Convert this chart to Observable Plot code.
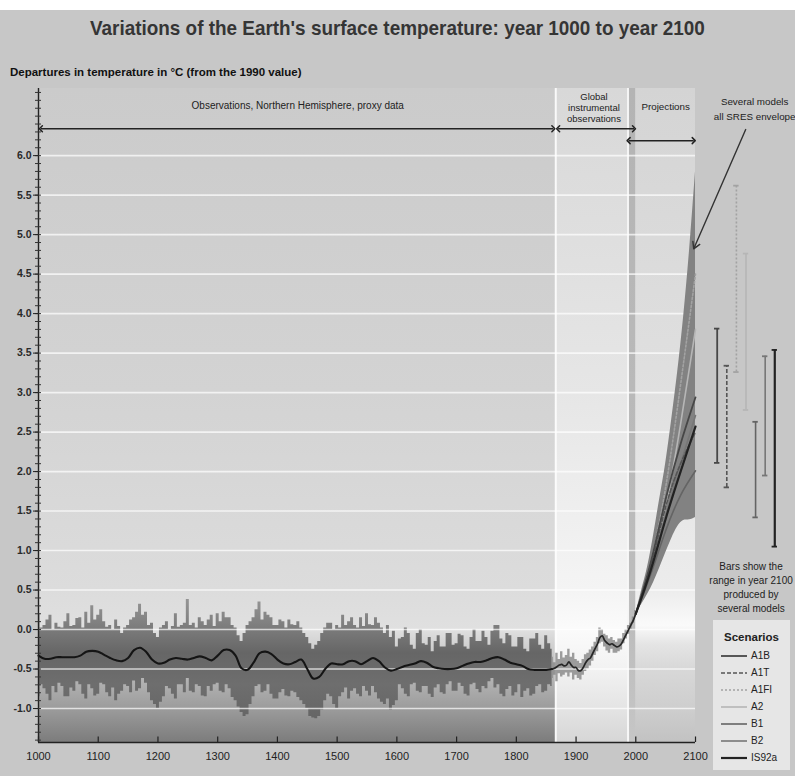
<!DOCTYPE html>
<html><head><meta charset="utf-8">
<script src="https://cdn.jsdelivr.net/npm/d3@7"></script>
<script src="https://cdn.jsdelivr.net/npm/@observablehq/plot@0.6"></script>
<style>
html,body{margin:0;padding:0;}
body{width:795px;height:776px;position:relative;background:#c7c7c7;overflow:hidden;font-family:"Liberation Sans",Arial,sans-serif;}
#topstrip{position:absolute;left:0;top:0;width:795px;height:10px;background:#fff;}
#title{position:absolute;left:0;top:16px;width:795px;text-align:center;font-weight:bold;font-size:21px;color:#353535;white-space:nowrap;transform:scaleX(0.9);transform-origin:397px 0;}
#ylabel{position:absolute;left:10px;top:66px;font-weight:bold;font-size:11.5px;color:#111;white-space:nowrap;}
#chart{position:absolute;left:0;top:80px;}
#legend{position:absolute;left:713px;top:620px;width:77px;height:150px;background:#e6e6e6;font-size:10px;color:#222;}
#legend .lt{font-weight:bold;font-size:11.5px;text-align:center;margin-top:11px;margin-bottom:4px;}
#legend .row{height:17px;display:flex;align-items:center;}
#legend svg{margin-left:8px;margin-right:4px;}
</style>
</head><body>
<div id="topstrip"></div>
<div id="title">Variations of the Earth's surface temperature: year 1000 to year 2100</div>
<div id="ylabel">Departures in temperature in °C (from the 1990 value)</div>
<div id="chart"></div>
<div id="legend"></div>
<script>
// ---------- DATA ----------
const bandYears = d3.range(1000, 1861, 5);
const proxyHigh = [
 0.20, 0.02, 0.05, 0.12, 0.18, 0.00, 0.08, 0.03, 0.02, 0.10,
 0.20, 0.04, 0.05, 0.14, 0.15, 0.02, 0.22, 0.08, 0.30, 0.12,
 0.18, 0.25, 0.10, 0.03, 0.05, 0.00, 0.12, 0.04,-0.05, 0.02,
 0.05, 0.12, 0.15, 0.22, 0.32, 0.18, 0.22, 0.05, 0.08,-0.05,
-0.10, 0.02, 0.05, 0.10, 0.00, 0.04, 0.20, 0.03, 0.05, 0.08,
 0.38, 0.05, 0.08, 0.02, 0.15, 0.10, 0.05, 0.12, 0.18, 0.04,
 0.20, 0.10, 0.22, 0.15, 0.15, 0.05, 0.02,-0.08,-0.15,-0.05,
 0.05, 0.10, 0.15, 0.25, 0.35, 0.12, 0.22, 0.18, 0.15, 0.05,
 0.05, 0.12, 0.10, 0.02, 0.12, 0.06, 0.05, 0.10, 0.02,-0.05,
-0.10,-0.18,-0.25,-0.20,-0.15,-0.05, 0.02, 0.08, 0.08, 0.00,
 0.05, 0.02, 0.18, 0.05, 0.10, 0.15, 0.05, 0.02, 0.15, 0.04,
 0.20, 0.06, 0.05, 0.15, 0.08, 0.02,-0.05, 0.05,-0.10,-0.02,
-0.22,-0.12,-0.10, 0.02,-0.05,-0.20,-0.25,-0.05, 0.00,-0.18,
-0.20,-0.10,-0.28,-0.15,-0.08,-0.22,-0.22,-0.05,-0.05,-0.20,
-0.18,-0.06,-0.08,-0.22,-0.25,-0.10, 0.00,-0.15,-0.15,-0.02,
-0.10,-0.20,-0.02, 0.05, 0.05,-0.12,-0.18,-0.05,-0.08,-0.22,
-0.22,-0.10,-0.10,-0.25,-0.28,-0.12,-0.12,-0.05,-0.20,-0.25,
-0.08,-0.18,-0.25];
const proxyLow = [
-0.85,-0.70,-0.75,-0.82,-0.90,-0.72,-0.80,-0.68,-0.72,-0.85,
-0.85,-0.74,-0.78,-0.66,-0.70,-0.82,-0.88,-0.70,-0.75,-0.84,
-0.82,-0.68,-0.70,-0.80,-0.85,-0.74,-0.90,-0.82,-0.78,-0.70,
-0.72,-0.80,-0.65,-0.78,-0.75,-0.62,-0.68,-0.80,-0.90,-0.95,
-1.00,-0.92,-0.85,-0.72,-0.75,-0.82,-0.88,-0.70,-0.70,-0.80,
-0.62,-0.78,-0.80,-0.70,-0.72,-0.84,-0.85,-0.72,-0.78,-0.70,
-0.68,-0.78,-0.80,-0.70,-0.75,-0.86,-0.90,-0.98,-1.05,-1.10,
-1.08,-0.95,-0.85,-0.72,-0.70,-0.80,-0.78,-0.70,-0.82,-0.88,
-0.88,-0.80,-0.76,-0.84,-0.85,-0.78,-0.80,-0.86,-0.90,-0.95,
-1.00,-1.10,-1.12,-1.13,-1.10,-1.02,-0.90,-0.82,-0.85,-0.95,
-1.00,-0.85,-0.80,-0.74,-0.88,-0.78,-0.75,-0.82,-0.85,-0.72,
-0.78,-0.84,-0.72,-0.80,-0.88,-0.92,-0.95,-0.88,-1.02,-0.96,
-0.90,-0.70,-0.75,-0.82,-0.85,-0.70,-0.68,-0.78,-0.80,-0.72,
-0.72,-0.82,-0.86,-0.74,-0.70,-0.80,-0.82,-0.70,-0.66,-0.78,
-0.78,-0.68,-0.72,-0.82,-0.84,-0.70,-0.68,-0.76,-0.80,-0.72,
-0.75,-0.66,-0.62,-0.74,-0.70,-0.82,-0.85,-0.76,-0.72,-0.84,
-0.80,-0.70,-0.86,-0.78,-0.75,-0.84,-0.82,-0.72,-0.70,-0.80,
-0.78,-0.70,-0.72];
const smoothYears = d3.range(1000, 1861, 10);
const proxySmooth = [
-0.33,-0.37,-0.37,-0.35,-0.35,-0.35,-0.35,-0.33,-0.28,-0.27,
-0.28,-0.32,-0.36,-0.39,-0.40,-0.36,-0.26,-0.23,-0.28,-0.38,
-0.43,-0.42,-0.38,-0.36,-0.37,-0.38,-0.36,-0.34,-0.36,-0.39,
-0.33,-0.26,-0.26,-0.33,-0.49,-0.51,-0.42,-0.30,-0.28,-0.31,
-0.38,-0.43,-0.44,-0.41,-0.38,-0.50,-0.62,-0.60,-0.50,-0.43,
-0.44,-0.44,-0.40,-0.40,-0.44,-0.40,-0.36,-0.40,-0.48,-0.52,
-0.50,-0.47,-0.45,-0.43,-0.40,-0.42,-0.47,-0.49,-0.50,-0.50,
-0.49,-0.46,-0.43,-0.41,-0.41,-0.39,-0.36,-0.35,-0.38,-0.42,
-0.44,-0.46,-0.50,-0.51,-0.51,-0.51,-0.50];

const instYears = d3.range(1860, 2001, 4);
const instSmooth = [-0.50,-0.49,-0.47,-0.45,-0.44,-0.46,-0.45,-0.41,-0.45,-0.48,
 -0.48,-0.52,-0.52,-0.48,-0.42,-0.38,-0.36,-0.30,-0.24,-0.18,
 -0.10,-0.08,-0.14,-0.17,-0.19,-0.18,-0.20,-0.22,-0.21,-0.18,
 -0.12,-0.06, 0.00, 0.06, 0.12, 0.20];
const instHigh = [-0.35,-0.42,-0.30,-0.38,-0.28,-0.36,-0.33,-0.25,-0.35,-0.30,
 -0.38,-0.40,-0.43,-0.38,-0.32,-0.30,-0.26,-0.22,-0.16,-0.10,
  0.02, 0.00,-0.06,-0.08,-0.12,-0.10,-0.14,-0.16,-0.12,-0.12,
 -0.05, 0.00, 0.05, 0.08, 0.16, 0.24];
const instLow = [-0.62,-0.58,-0.66,-0.56,-0.60,-0.58,-0.55,-0.60,-0.55,-0.64,
 -0.58,-0.62,-0.64,-0.58,-0.53,-0.50,-0.46,-0.40,-0.33,-0.28,
 -0.18,-0.16,-0.22,-0.27,-0.30,-0.25,-0.30,-0.30,-0.28,-0.26,
 -0.18,-0.12,-0.06, 0.00, 0.08, 0.16];

const envYears = [2000,2010,2020,2030,2040,2050,2060,2070,2080,2090,2100];
const envHigh  = [0.20,0.50,0.80,1.20,1.65,2.10,2.65,3.25,3.95,4.80,5.80];
const envLow   = [0.20,0.32,0.45,0.60,0.78,0.97,1.15,1.30,1.38,1.39,1.42];

const scenarioNames = ["A1B","A1T","A1FI","A2","B1","B2","IS92a"];
const scenYears = [2000,2025,2050,2075,2100];
const scenA1B  = [0.20,0.85,1.65,2.35,2.94];
const scenA1T  = [0.20,0.80,1.55,2.10,2.50];
const scenA1FI = [0.20,0.85,1.80,3.10,4.50];
const scenA2   = [0.20,0.80,1.55,2.60,3.80];
const scenB1   = [0.20,0.70,1.25,1.70,2.01];
const scenB2   = [0.20,0.80,1.45,2.10,2.71];
const scenIS92a= [0.20,0.75,1.40,2.00,2.57];
const rangeLow  = [2.11,1.80,3.26,2.78,1.42,1.95,1.05];
const rangeHigh = [3.81,3.34,5.62,4.76,2.63,3.46,3.54];

const periodNames = ["proxy","instrumental","recent","projections"];
const periodStart = [1000,1866,1987,2000];
const periodEnd   = [1866,1987,2000,2100];

const xTicks = [1000,1100,1200,1300,1400,1500,1600,1700,1800,1900,2000,2100];
const yTicks = [-1.0,-0.5,0.0,0.5,1.0,1.5,2.0,2.5,3.0,3.5,4.0,4.5,5.0,5.5,6.0];

// ---------- STYLES ----------
const scenStyle = {
  A1B:  {stroke:"#474747", dash:null, w:1.8},
  A1T:  {stroke:"#555555", dash:"4,2", w:1.6},
  A1FI: {stroke:"#a2a2a2", dash:"2,2", w:1.6},
  A2:   {stroke:"#b6b6b6", dash:null, w:1.6},
  B1:   {stroke:"#646464", dash:null, w:1.6},
  B2:   {stroke:"#777777", dash:null, w:1.6},
  IS92a:{stroke:"#222222", dash:null, w:2.2}
};
const scenVals = {A1B:scenA1B,A1T:scenA1T,A1FI:scenA1FI,A2:scenA2,B1:scenB1,B2:scenB2,IS92a:scenIS92a};
const periodFill = ["url(#gProxy)","url(#gInst)","url(#gStrip)","url(#gProj)"];

// ---------- BUILD ----------
const yMin = -1.43, yMax = 6.85, xMin = 1000, xMax = 2267.4;
const W = 795, H = 696, mT = 8, mB = 34, mL = 38, mR = 0;

const band = bandYears.map((year,i)=>({year, hi:proxyHigh[i], lo:proxyLow[i]}));
const smooth = smoothYears.map((year,i)=>({year, s:proxySmooth[i]}));
const inst = instYears.map((year,i)=>({year, hi:instHigh[i], lo:instLow[i], s:instSmooth[i]}));
const env = envYears.map((year,i)=>({year, hi:envHigh[i], lo:envLow[i]}));
const periods = periodNames.map((name,i)=>({name, start:periodStart[i], end:periodEnd[i]}));
const scenRows = scenarioNames.flatMap(name => scenYears.map((year,i)=>({name, year, v:scenVals[name][i]})));
const barStep = 16.07, barStart = 2136.3;
const bars = scenarioNames.map((name,i)=>({name, x: barStart + i*barStep, lo: rangeLow[i], hi: rangeHigh[i]}));
const minorTicks = d3.range(-14, 69).map(i => i/10);

const marks = [];
periods.forEach((p,i) => marks.push(Plot.rect([p], {x1:"start", x2:"end", y1:yMin, y2:yMax, fill: periodFill[i]})));
marks.push(Plot.ruleX([periodStart[1], periodStart[2]], {stroke:"white", strokeWidth:2, strokeOpacity:0.85}));
marks.push(Plot.areaY(band, {x:"year", y1:"lo", y2:"hi", curve:"step", fill:"url(#gBand)"}));
marks.push(Plot.areaY(inst, {x:"year", y1:"lo", y2:"hi", curve:"step", fill:"#8c8c8c", fillOpacity:0.85}));
marks.push(Plot.ruleY(yTicks, {x1:1000, x2:2100, stroke:"white", strokeWidth:1.6, strokeOpacity:0.7}));
marks.push(Plot.areaY(env, {x:"year", y1:"lo", y2:"hi", curve:"natural", fill:"#828282"}));
marks.push(Plot.line(smooth, {x:"year", y:"s", curve:"catmull-rom", stroke:"#151515", strokeWidth:2.1}));
marks.push(Plot.line(inst, {x:"year", y:"s", curve:"catmull-rom", stroke:"#262626", strokeWidth:1.7}));
["A2","A1FI","B2","B1","A1T","A1B","IS92a"].forEach(name => {
  const st = scenStyle[name];
  marks.push(Plot.line(scenRows.filter(d=>d.name===name), {x:"year", y:"v", curve:"natural", stroke:st.stroke, strokeWidth:st.w, strokeDasharray: st.dash || undefined}));
});
bars.forEach(b => {
  const st = scenStyle[b.name];
  marks.push(Plot.ruleX([b], {x:"x", y1:"lo", y2:"hi", stroke:st.stroke, strokeWidth: st.w, strokeDasharray: st.dash || undefined}));
  marks.push(Plot.ruleY([b, b], {y:(d,i)=> i ? d.hi : d.lo, x1: d=>d.x-4.5, x2: d=>d.x+4.5, stroke:st.stroke, strokeWidth:1.8}));
});
// axes
marks.push(Plot.ruleX([1000], {stroke:"#222", strokeWidth:1.4}));
marks.push(Plot.ruleY([yMin], {x1:1000, x2:2100, stroke:"#222", strokeWidth:1.4}));
marks.push(Plot.ruleX(xTicks, {y1:yMin, y2:yMin+0.07, stroke:"#222", strokeWidth:1.2}));
marks.push(Plot.axisY({ticks:minorTicks, tickSize:6, dx:3, tickFormat:()=>"", stroke:"#333"}));
marks.push(Plot.axisY({ticks:yTicks, tickSize:5, tickPadding:2, tickFormat:d=>d.toFixed(1), fontSize:10.5, fontWeight:"bold", fill:"#2a2a2a", stroke:"#222"}));
marks.push(Plot.axisX({ticks:xTicks, tickSize:0, tickPadding:10, tickFormat:d=>String(d), fontSize:11, fill:"#222"}));
// annotations
marks.push(Plot.text(["Observations, Northern Hemisphere, proxy data"], {x:1434, y:6.63, fontSize:10, fill:"#222"}));
marks.push(Plot.text(["Global\ninstrumental\nobservations"], {x:1930, y:6.61, fontSize:9.5, lineHeight:1.15, fill:"#222"}));
marks.push(Plot.text(["Projections"], {x:2050, y:6.62, fontSize:9.8, fill:"#222"}));
marks.push(Plot.text(["Several models\nall SRES envelope"], {x:2199, y:6.61, fontSize:9.8, lineHeight:1.6, fill:"#222"}));
marks.push(Plot.text(["Bars show the\nrange in year 2100\nproduced by\nseveral models"], {x:2193, y:0.54, fontSize:10, lineHeight:1.4, fill:"#222"}));
const arrowsData = [
  {x1:1004, x2:1862, y:6.34},
  {x1:1870, x2:1997, y:6.34},
  {x1:1988, x2:2097, y:6.19}
];
marks.push(Plot.link(arrowsData, {x1:"x1", x2:"x2", y1:"y", y2:"y", stroke:"#222", strokeWidth:1.5, markerStart:"arrow-reverse", markerEnd:"arrow"}));
marks.push(Plot.arrow([0], {x1:2184, y1:6.33, x2:2097, y2:4.82, stroke:"#333", strokeWidth:1.4, headLength:8}));

const chart = Plot.plot({
  width: W, height: H,
  marginTop: mT, marginBottom: mB, marginLeft: mL, marginRight: mR,
  x: {domain:[xMin, xMax], axis: null},
  y: {domain:[yMin, yMax], axis: null},
  style: {background:"transparent", fontFamily:"'Liberation Sans', Arial, sans-serif", color:"#222", overflow:"visible"},
  marks
});
const yPix = d3.scaleLinear([yMin, yMax], [H - mB, mT]);
function grad(id, stops) {
  return `<linearGradient id="${id}" gradientUnits="userSpaceOnUse" x1="0" x2="0" y1="${yPix(yMax)}" y2="${yPix(yMin)}">` +
    stops.map(([v,c]) => `<stop offset="${((yMax - v)/(yMax - yMin)).toFixed(4)}" stop-color="${c}"/>`).join("") +
    `</linearGradient>`;
}
const defs = `<defs>` +
  grad("gProxy", [[6.85,"#cbcbcb"],[3,"#d3d3d3"],[0.5,"#dcdcdc"],[0,"#e0e0e0"],[-0.5,"#bcbcbc"],[-1.0,"#9c9c9c"],[-1.43,"#7c7c7c"]]) +
  grad("gInst", [[6.85,"#d8d8d8"],[3,"#e6e6e6"],[0.5,"#f4f4f4"],[0,"#fbfbfb"],[-0.5,"#f2f2f2"],[-1.0,"#e4e4e4"],[-1.43,"#d6d6d6"]]) +
  grad("gStrip", [[6.85,"#b4b4b4"],[0,"#bdbdbd"],[-1.43,"#c6c6c6"]]) +
  grad("gProj", [[6.85,"#d4d4d4"],[3,"#e0e0e0"],[0.5,"#ececec"],[0.05,"#fafafa"],[-0.2,"#e4e4e4"],[-0.5,"#d8d8d8"],[-1.0,"#cecece"],[-1.43,"#c2c2c2"]]) +
  grad("gBand", [[0.4,"#969696"],[0.02,"#7c7c7c"],[-0.3,"#666666"],[-0.7,"#6e6e6e"],[-1.15,"#656565"]]) +
  `</defs>`;
chart.insertAdjacentHTML("afterbegin", defs);
document.getElementById("chart").appendChild(chart);

// legend
const lg = document.getElementById("legend");
let html = `<div class="lt">Scenarios</div>`;
scenarioNames.forEach(name => {
  const st = scenStyle[name];
  html += `<div class="row"><svg width="26" height="6"><line x1="0" x2="26" y1="3" y2="3" stroke="${st.stroke}" stroke-width="${st.w}" ${st.dash ? `stroke-dasharray="${st.dash}"` : ""}/></svg><span>${name}</span></div>`;
});
lg.innerHTML = html;
</script>
</body></html>
